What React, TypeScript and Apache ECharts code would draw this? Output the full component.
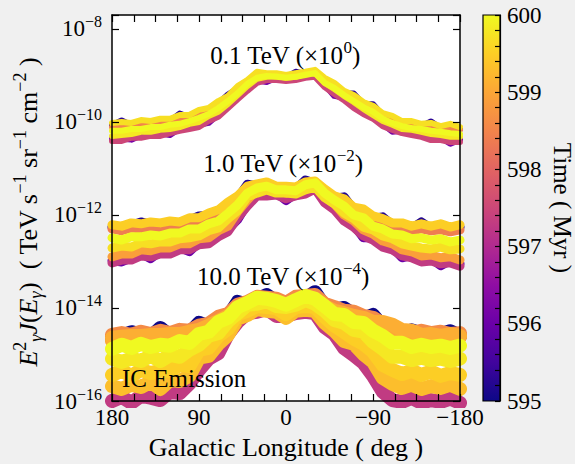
import React, { useEffect, useRef } from "react";
import * as echarts from "echarts";

// Galactic longitude samples (deg)
const LONGITUDES = [180, 170, 160, 150, 140, 130, 120, 110, 100, 90, 80, 70, 60, 50, 40, 30, 20, 10, 0, -10, -20, -30, -40, -50, -60, -70, -80, -90, -100, -110, -120, -130, -140, -150, -160, -170, -180];

// log10 of E^2 J(E) (scaled) — 0.1 TeV band (x10^0)
const TOP_T595_3 = [-10.07, -9.97, -10.07, -10.01, -10.03, -9.98, -9.98, -9.82, -9.9, -9.79, -9.75, -9.6, -9.41, -9.28, -9.15, -8.97, -9.0, -9.0, -9.04, -8.92, -8.97, -8.93, -9.1, -9.21, -9.38, -9.39, -9.62, -9.62, -9.86, -9.92, -10.03, -10.03, -10.09, -9.99, -10.14, -10.09, -10.16];
const TOP_T596_2 = [-10.36, -10.36, -10.38, -10.29, -10.25, -10.25, -10.28, -10.14, -10.1, -10.06, -10.02, -9.84, -9.65, -9.46, -9.28, -9.11, -9.14, -9.05, -9.07, -9.05, -9.0, -8.98, -9.2, -9.44, -9.48, -9.65, -9.78, -9.88, -10.04, -10.21, -10.19, -10.23, -10.27, -10.34, -10.34, -10.47, -10.38];
const TOP_T597_5 = [-10.41, -10.41, -10.34, -10.34, -10.3, -10.3, -10.24, -10.19, -10.15, -10.11, -9.98, -9.89, -9.7, -9.51, -9.33, -9.16, -9.1, -9.1, -9.12, -9.1, -9.05, -9.03, -9.25, -9.4, -9.53, -9.7, -9.83, -9.93, -10.09, -10.17, -10.24, -10.28, -10.32, -10.39, -10.39, -10.43, -10.43];
const TOP_T598_5 = [-10.11, -10.09, -10.09, -10.04, -10.06, -10.0, -10.0, -9.96, -9.89, -9.87, -9.74, -9.65, -9.51, -9.33, -9.14, -9.01, -8.99, -9.03, -9.03, -9.01, -8.97, -8.92, -9.12, -9.25, -9.38, -9.53, -9.63, -9.76, -9.89, -9.98, -10.02, -10.09, -10.09, -10.13, -10.15, -10.13, -10.17];
const TOP_T599_7 = [-10.02, -10.0, -10.02, -9.96, -9.98, -9.93, -9.93, -9.85, -9.85, -9.74, -9.7, -9.55, -9.44, -9.23, -9.1, -8.92, -8.95, -8.95, -8.99, -8.95, -8.92, -8.88, -9.05, -9.16, -9.33, -9.42, -9.57, -9.65, -9.81, -9.87, -9.98, -9.98, -10.04, -10.02, -10.09, -10.04, -10.11];
const TOP_T599_8 = [-10.3, -10.28, -10.26, -10.21, -10.21, -10.17, -10.15, -10.11, -10.04, -10.0, -9.87, -9.78, -9.61, -9.42, -9.23, -9.07, -9.03, -9.01, -9.05, -9.03, -8.97, -8.95, -9.16, -9.29, -9.44, -9.57, -9.72, -9.85, -9.98, -10.06, -10.15, -10.17, -10.21, -10.26, -10.28, -10.32, -10.32];
const TOP_T600 = [-10.19, -10.19, -10.15, -10.15, -10.11, -10.11, -10.06, -10.04, -9.98, -9.91, -9.83, -9.7, -9.55, -9.38, -9.18, -9.05, -9.01, -9.03, -9.05, -9.03, -8.99, -8.95, -9.16, -9.27, -9.42, -9.55, -9.68, -9.78, -9.93, -10.02, -10.09, -10.13, -10.15, -10.19, -10.21, -10.24, -10.26];

// 1.0 TeV band (x10^-2)
const MID_T595_2 = [-12.26, -12.29, -12.22, -12.15, -12.2, -12.22, -12.18, -12.2, -12.11, -12.02, -12.01, -11.94, -11.77, -11.64, -11.34, -11.38, -11.34, -11.43, -11.43, -11.45, -11.25, -11.32, -11.49, -11.64, -11.61, -11.88, -11.92, -12.07, -12.04, -12.22, -12.22, -12.29, -12.15, -12.29, -12.24, -12.31, -12.26];
const MID_T596_0 = [-12.98, -13.01, -12.92, -12.83, -12.94, -12.79, -12.79, -12.7, -12.79, -12.59, -12.57, -12.42, -12.31, -12.1, -11.76, -11.54, -11.54, -11.52, -11.69, -11.54, -11.5, -11.39, -11.69, -11.84, -12.08, -12.21, -12.49, -12.49, -12.64, -12.7, -12.92, -12.87, -12.96, -12.94, -13.09, -12.98, -13.05];
const MID_T597_3 = [-13.03, -12.97, -12.97, -12.88, -12.9, -12.84, -12.84, -12.75, -12.75, -12.64, -12.62, -12.47, -12.36, -12.06, -11.81, -11.59, -11.59, -11.57, -11.65, -11.59, -11.55, -11.44, -11.74, -11.89, -12.13, -12.26, -12.45, -12.54, -12.69, -12.75, -12.88, -12.92, -13.01, -12.99, -13.05, -13.03, -13.1];
const MID_T598_4 = [-12.3, -12.34, -12.28, -12.3, -12.26, -12.3, -12.24, -12.26, -12.17, -12.17, -12.06, -12.0, -11.83, -11.7, -11.48, -11.44, -11.4, -11.48, -11.48, -11.5, -11.4, -11.35, -11.55, -11.68, -11.76, -11.93, -11.98, -12.13, -12.19, -12.26, -12.28, -12.34, -12.3, -12.34, -12.32, -12.36, -12.32];
const MID_T598_9 = [-12.9, -12.84, -12.84, -12.75, -12.77, -12.71, -12.71, -12.62, -12.62, -12.51, -12.49, -12.34, -12.24, -11.93, -11.68, -11.46, -11.46, -11.44, -11.53, -11.46, -11.42, -11.31, -11.61, -11.76, -12.0, -12.13, -12.32, -12.41, -12.56, -12.62, -12.75, -12.79, -12.88, -12.86, -12.92, -12.9, -12.97];
const MID_T599_5 = [-12.21, -12.24, -12.17, -12.19, -12.15, -12.17, -12.13, -12.15, -12.06, -12.06, -11.96, -11.89, -11.72, -11.59, -11.38, -11.33, -11.29, -11.38, -11.38, -11.4, -11.29, -11.27, -11.44, -11.59, -11.65, -11.83, -11.87, -12.02, -12.08, -12.17, -12.17, -12.24, -12.19, -12.24, -12.19, -12.26, -12.21];
const MID_T599_7 = [-12.71, -12.67, -12.69, -12.6, -12.62, -12.58, -12.58, -12.51, -12.49, -12.45, -12.34, -12.28, -12.08, -11.91, -11.61, -11.53, -11.46, -11.53, -11.53, -11.55, -11.46, -11.4, -11.63, -11.76, -11.96, -12.08, -12.26, -12.32, -12.45, -12.51, -12.62, -12.67, -12.71, -12.73, -12.69, -12.75, -12.73];
const MID_T600 = [-12.49, -12.54, -12.47, -12.47, -12.43, -12.45, -12.39, -12.39, -12.3, -12.3, -12.19, -12.13, -11.96, -11.78, -11.53, -11.42, -11.38, -11.46, -11.46, -11.48, -11.35, -11.31, -11.53, -11.68, -11.81, -12.0, -12.06, -12.24, -12.3, -12.41, -12.43, -12.51, -12.49, -12.54, -12.51, -12.58, -12.54];

// 10.0 TeV band (x10^-4)
const BOT_T595_0 = [-14.64, -14.6, -14.52, -14.57, -14.62, -14.43, -14.6, -14.53, -14.55, -14.32, -14.4, -14.25, -14.19, -13.87, -13.93, -13.82, -13.72, -13.86, -13.95, -13.82, -13.8, -13.66, -13.97, -14.04, -14.0, -14.14, -14.23, -14.15, -14.4, -14.44, -14.55, -14.48, -14.55, -14.6, -14.57, -14.5, -14.6];
const BOT_T597_3 = [-16.0, -15.91, -16.04, -15.89, -15.93, -15.98, -15.8, -15.83, -15.63, -15.33, -15.09, -14.97, -14.56, -14.3, -14.11, -14.08, -14.02, -14.17, -14.17, -14.11, -14.08, -14.11, -14.41, -14.56, -14.86, -15.01, -15.18, -15.46, -15.8, -15.98, -16.02, -15.93, -16.04, -15.98, -16.02, -15.95, -16.04];
const BOT_T598_6 = [-14.58, -14.54, -14.58, -14.51, -14.56, -14.49, -14.54, -14.47, -14.49, -14.38, -14.34, -14.19, -14.13, -13.93, -13.87, -13.76, -13.78, -13.8, -13.89, -13.76, -13.74, -13.72, -13.91, -13.98, -14.06, -14.08, -14.17, -14.21, -14.34, -14.38, -14.49, -14.54, -14.49, -14.54, -14.51, -14.56, -14.54];
const BOT_T599_0 = [-14.71, -14.64, -14.69, -14.62, -14.66, -14.6, -14.64, -14.58, -14.6, -14.49, -14.45, -14.3, -14.23, -14.04, -13.96, -13.87, -13.85, -13.93, -13.96, -13.89, -13.8, -13.83, -14.0, -14.11, -14.13, -14.21, -14.28, -14.34, -14.36, -14.45, -14.54, -14.6, -14.6, -14.64, -14.62, -14.66, -14.62];
const BOT_T599_1 = [-14.64, -14.62, -14.6, -14.6, -14.58, -14.58, -14.56, -14.56, -14.51, -14.47, -14.38, -14.28, -14.17, -14.02, -13.91, -13.85, -13.83, -13.89, -13.93, -13.85, -13.78, -13.8, -13.96, -14.06, -14.11, -14.17, -14.21, -14.3, -14.3, -14.36, -14.47, -14.49, -14.58, -14.56, -14.6, -14.56, -14.6];
const BOT_T599_2 = [-15.68, -15.74, -15.65, -15.7, -15.59, -15.74, -15.55, -15.57, -15.46, -15.07, -15.03, -14.77, -14.58, -14.23, -14.15, -14.02, -14.06, -14.08, -14.21, -14.06, -14.04, -14.06, -14.32, -14.49, -14.71, -14.77, -14.99, -15.16, -15.5, -15.63, -15.72, -15.65, -15.74, -15.68, -15.72, -15.65, -15.74];
const BOT_T599_5 = [-15.44, -15.35, -15.46, -15.33, -15.4, -15.35, -15.35, -15.22, -15.25, -14.9, -14.86, -14.6, -14.45, -14.13, -14.06, -13.96, -13.98, -14.0, -14.13, -13.98, -13.96, -13.98, -14.19, -14.38, -14.51, -14.66, -14.77, -14.94, -15.22, -15.33, -15.42, -15.35, -15.44, -15.37, -15.46, -15.4, -15.44];
const BOT_T599_8 = [-15.09, -15.16, -15.09, -15.14, -15.03, -15.14, -15.01, -15.05, -14.9, -14.79, -14.6, -14.54, -14.28, -14.11, -13.93, -13.91, -13.85, -13.96, -13.98, -13.93, -13.83, -13.91, -14.06, -14.26, -14.32, -14.47, -14.51, -14.73, -14.88, -15.05, -15.05, -15.12, -15.07, -15.12, -15.09, -15.14, -15.09];
const BOT_T600 = [-14.88, -14.79, -14.86, -14.77, -14.84, -14.79, -14.81, -14.71, -14.75, -14.56, -14.51, -14.3, -14.21, -13.98, -13.89, -13.78, -13.8, -13.85, -13.93, -13.83, -13.74, -13.8, -13.96, -14.13, -14.15, -14.3, -14.32, -14.49, -14.6, -14.75, -14.75, -14.84, -14.79, -14.84, -14.81, -14.86, -14.81];

// Snapshot times (Myr), same order as the lines of each band
const TOP_TIMES = [595.3, 596.2, 597.5, 598.5, 599.7, 599.8, 600];
const MID_TIMES = [595.2, 596.0, 597.3, 598.4, 598.9, 599.5, 599.7, 600];
const BOT_TIMES = [595.0, 597.3, 598.6, 599.0, 599.1, 599.3, 599.5, 599.8, 600];

const ENERGY_LABELS = ["0.1 TeV", "1.0 TeV", "10.0 TeV"];
const SCALE_EXPONENTS = [0, -2, -4];
const Y_LOG_MIN = -16;
const Y_LOG_MAX = -7.7;
const Y_LOG_STEP = 2;
const TIME_MIN = 595;
const TIME_MAX = 600;

const PLASMA = ["#0d0887", "#41049d", "#6a00a8", "#8f0da4", "#b12a90", "#cc4778", "#e16462", "#f2844b", "#fca636", "#fcce25", "#f0f921"];
const FONT = "'Liberation Serif', 'Times New Roman', serif";

function hexToRgb(h: string) {
  return [parseInt(h.slice(1, 3), 16), parseInt(h.slice(3, 5), 16), parseInt(h.slice(5, 7), 16)];
}
function plasma(time: number) {
  const t = Math.max(0, Math.min(1, (time - TIME_MIN) / (TIME_MAX - TIME_MIN)));
  const x = t * (PLASMA.length - 1);
  const i = Math.min(PLASMA.length - 2, Math.floor(x));
  const f = x - i;
  const a = hexToRgb(PLASMA[i]);
  const b = hexToRgb(PLASMA[i + 1]);
  const c = a.map((v, k) => Math.round(v + (b[k] - v) * f));
  return `rgb(${c[0]},${c[1]},${c[2]})`;
}
const minus = (n: number) => (n < 0 ? "\u2212" + -n : String(n));

const BANDS = [
  { lines: [TOP_T595_3, TOP_T596_2, TOP_T597_5, TOP_T598_5, TOP_T599_7, TOP_T599_8, TOP_T600], times: TOP_TIMES, width: 6 },
  { lines: [MID_T595_2, MID_T596_0, MID_T597_3, MID_T598_4, MID_T598_9, MID_T599_5, MID_T599_7, MID_T600], times: MID_TIMES, width: 9 },
  { lines: [BOT_T595_0, BOT_T597_3, BOT_T598_6, BOT_T599_0, BOT_T599_1, BOT_T599_2, BOT_T599_5, BOT_T599_8, BOT_T600], times: BOT_TIMES, width: 14 },
];

function buildOption() {
  const series: any[] = [];
  BANDS.forEach((band) => {
    band.lines.forEach((arr, i) => {
      series.push({
        type: "line",
        xAxisIndex: 0,
        yAxisIndex: 0,
        data: LONGITUDES.map((lon, k) => [lon, arr[k]]),
        symbol: "none",
        showSymbol: false,
        silent: true,
        clip: true,
        lineStyle: { color: plasma(band.times[i]), width: band.width, join: "round", cap: "round" },
      });
    });
  });

  const axisLineStyle = { color: "#000", width: 1.5 };
  const tickStyle = { color: "#000", width: 1.2 };

  const xCommon = {
    type: "value",
    gridIndex: 0,
    min: -180,
    max: 180,
    interval: 90,
    inverse: true,
    z: 10,
    splitLine: { show: false },
    axisLine: { show: true, onZero: false, lineStyle: axisLineStyle },
    axisTick: { show: true, inside: true, length: 7, lineStyle: tickStyle },
    minorTick: { show: true, splitNumber: 4, length: 7, lineStyle: tickStyle },
  };
  const yCommon = {
    type: "value",
    gridIndex: 0,
    min: Y_LOG_MIN,
    max: Y_LOG_MAX,
    interval: Y_LOG_STEP,
    z: 10,
    splitLine: { show: false },
    axisLine: { show: true, onZero: false, lineStyle: axisLineStyle },
    axisTick: { show: true, inside: true, length: 7, lineStyle: tickStyle },
  };

  const labelRich = {
    n: { fontSize: 25, fontFamily: FONT, fill: "#000", lineHeight: 32 },
    s: { fontSize: 17, fontFamily: FONT, fill: "#000", lineHeight: 17, verticalAlign: "top" },
  };
  const bandLabelPos = [
    [285, 55],
    [283, 163],
    [283, 276],
  ];
  const bandTexts = ENERGY_LABELS.map((lab, i) => ({
    type: "text",
    x: bandLabelPos[i][0],
    y: bandLabelPos[i][1],
    z: 100,
    silent: true,
    style: {
      text: `{n|${lab} (\u00d710}{s|${minus(SCALE_EXPONENTS[i])}}{n|)}`,
      rich: labelRich,
      align: "center",
      verticalAlign: "middle",
    },
  }));

  const yTitleRich = {
    i: { fontSize: 26, fontFamily: FONT, fontStyle: "italic", fill: "#000", lineHeight: 34 },
    n: { fontSize: 26, fontFamily: FONT, fill: "#000", lineHeight: 34 },
    sup: { fontSize: 18, fontFamily: FONT, fill: "#000", lineHeight: 18, verticalAlign: "top" },
    sub: { fontSize: 18, fontFamily: FONT, fontStyle: "italic", fill: "#000", lineHeight: 18, verticalAlign: "bottom" },
  };

  return {
    animation: false,
    backgroundColor: "#f0f0f0",
    grid: [
      { left: 112, top: 15, width: 348, height: 386, show: true, backgroundColor: "#ffffff", borderWidth: 0 },
      {
        left: 483,
        top: 15,
        width: 17,
        height: 386,
        show: true,
        borderColor: "#000",
        borderWidth: 1.2,
        backgroundColor: {
          type: "linear",
          x: 0,
          y: 1,
          x2: 0,
          y2: 0,
          colorStops: PLASMA.map((c, i) => ({ offset: i / (PLASMA.length - 1), color: c })),
        },
      },
    ],
    xAxis: [
      {
        ...xCommon,
        position: "bottom",
        axisLabel: {
          show: true,
          fontSize: 23,
          fontFamily: FONT,
          color: "#000",
          margin: 5,
          formatter: (v: number) => minus(v),
        },
      },
      { ...xCommon, position: "top", axisLabel: { show: false } },
      { type: "value", gridIndex: 1, show: false, min: 0, max: 1 },
    ],
    yAxis: [
      {
        ...yCommon,
        position: "left",
        axisLabel: {
          show: true,
          margin: 10,
          formatter: (v: number) => {
            if (Math.abs(v - Math.round(v)) > 1e-6) return "";
            return `{b|10}{s|${minus(Math.round(v))}}`;
          },
          rich: {
            b: { fontSize: 23, fontFamily: FONT, color: "#000", lineHeight: 30 },
            s: { fontSize: 16, fontFamily: FONT, color: "#000", lineHeight: 16, verticalAlign: "top" },
          },
        },
      },
      { ...yCommon, position: "right", axisLabel: { show: false } },
      {
        type: "value",
        gridIndex: 1,
        position: "right",
        min: TIME_MIN,
        max: TIME_MAX,
        interval: 1,
        z: 10,
        splitLine: { show: false },
        axisLine: { show: true, onZero: false, lineStyle: { color: "#000", width: 1.2 } },
        axisTick: { show: true, inside: true, length: 5, lineStyle: tickStyle },
        minorTick: { show: true, splitNumber: 5, length: 5, lineStyle: tickStyle },
        axisLabel: { show: true, fontSize: 23, fontFamily: FONT, color: "#000", margin: 7 },
      },
    ],
    graphic: [
      ...bandTexts,
      {
        type: "text",
        x: 122,
        y: 378,
        z: 100,
        silent: true,
        style: { text: "IC Emission", fontSize: 25, fontFamily: FONT, fill: "#000", align: "left", verticalAlign: "middle" },
      },
      {
        type: "text",
        x: 286,
        y: 447,
        z: 100,
        silent: true,
        style: { text: "Galactic Longitude ( deg )", fontSize: 26, fontFamily: FONT, fill: "#000", align: "center", verticalAlign: "middle" },
      },
      {
        type: "text",
        x: 562,
        y: 208,
        z: 100,
        rotation: -Math.PI / 2,
        silent: true,
        style: { text: "Time ( Myr )", fontSize: 25, fontFamily: FONT, fill: "#000", align: "center", verticalAlign: "middle" },
      },
      {
        type: "text",
        x: 28,
        y: 212,
        z: 100,
        rotation: Math.PI / 2,
        silent: true,
        style: {
          text:
            "{i|E}{sup|2}{sub|\u03b3}{i|J}{n|(}{i|E}{sub|\u03b3}{n|)  ( TeV s}{sup|\u22121}{n| sr}{sup|\u22121}{n| cm}{sup|\u22122}{n| )}",
          rich: yTitleRich,
          align: "center",
          verticalAlign: "middle",
        },
      },
    ],
    series,
  };
}

export default function App() {
  const ref = useRef<HTMLDivElement>(null);
  useEffect(() => {
    document.body.style.margin = "0";
    const chart = echarts.init(ref.current as HTMLDivElement, null, { renderer: "svg" });
    chart.setOption(buildOption() as any);
    return () => chart.dispose();
  }, []);
  return <div ref={ref} style={{ width: 575, height: 464 }} />;
}
